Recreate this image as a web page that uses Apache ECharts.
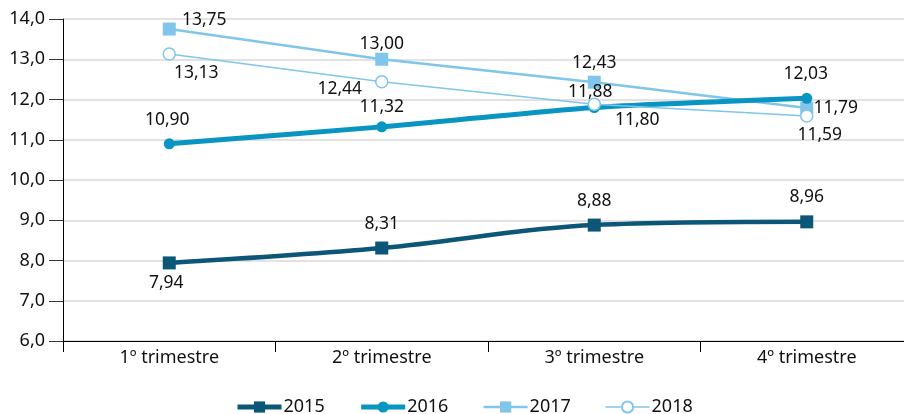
<!DOCTYPE html>
<html>
<head>
<meta charset="utf-8">
<script src="https://cdn.jsdelivr.net/npm/echarts@6/dist/echarts.min.js"></script>
<style>
  html, body { margin: 0; padding: 0; background: #fff; overflow: hidden; width: 904px; height: 414px; }
  /* the plot area runs slightly past the right edge of the page */
  #chart { width: 913px; height: 414px; }
</style>
</head>
<body>
<div id="chart"></div>
<script>
// Quarterly values per year
const categories = ['1º trimestre', '2º trimestre', '3º trimestre', '4º trimestre'];
const years = ['2015', '2016', '2017', '2018'];
const values2015 = [7.94, 8.31, 8.88, 8.96];
const values2016 = [10.90, 11.32, 11.80, 12.03];
const values2017 = [13.75, 13.00, 12.43, 11.79];
const values2018 = [13.13, 12.44, 11.88, 11.59];
const yTicks = { min: 6, max: 14, step: 1 };

// Label placement (pixel offsets from each point's centre)
const labelOffsets2015 = [[-3, 20], [0, -24], [0, -24], [0, -25]];
const labelOffsets2016 = [[-2, -24], [0, -20], [43, 12], [-1, -24]];
const labelOffsets2017 = [[35, -9], [0, -15], [0, -19], [29, 0]];
const labelOffsets2018 = [[27, 19], [-42, 7], [-4, -12], [13, 19]];

const FONT = '"Noto Sans", "DejaVu Sans", sans-serif';
const TEXT = '#111111';
const fmt = v => v.toFixed(2).replace('.', ',');

const styles = {
  '2015': { color: '#0c5677', width: 4.5, symbol: 'rect', symbolSize: 13, smooth: 0.35, z: 4, legendWidth: 5 },
  '2016': { color: '#0895c2', width: 5, symbol: 'circle', symbolSize: 11, smooth: 0.2, z: 3, legendWidth: 5 },
  '2017': { color: '#80c5ea', width: 2.5, symbol: 'rect', symbolSize: 13, z: 2, legendWidth: 2.5 },
  '2018': { color: '#80c5ea', width: 1.5, symbol: 'circle', symbolSize: 12, fill: '#ffffff', borderWidth: 1.5, z: 5, legendWidth: 1.5 }
};

function points(vals, offsets) {
  return vals.map((v, i) => ({ value: v, label: { offset: offsets[i] } }));
}

function lineSeries(name, vals, offsets) {
  const style = styles[name];
  return {
    name: name,
    type: 'line',
    data: points(vals, offsets),
    smooth: style.smooth || false,
    symbol: style.symbol,
    symbolSize: style.symbolSize,
    showAllSymbol: true,
    lineStyle: { color: style.color, width: style.width },
    itemStyle: {
      color: style.fill || style.color,
      borderColor: style.color,
      borderWidth: style.borderWidth || 0
    },
    label: {
      show: true,
      position: 'inside',
      formatter: p => fmt(p.value),
      color: TEXT,
      fontFamily: FONT,
      fontSize: 17.5
    },
    emphasis: { disabled: true },
    z: style.z
  };
}

const chart = echarts.init(document.getElementById('chart'), null, { renderer: 'canvas' });
chart.setOption({
  animation: false,
  backgroundColor: '#ffffff',
  grid: { left: 63, top: 19, right: 0, height: 322, containLabel: false },
  legend: {
    top: 393,
    left: 230,
    itemWidth: 44,
    itemHeight: 14,
    itemGap: 34,
    data: years.map(y => ({
      name: y,
      lineStyle: { width: styles[y].legendWidth, color: styles[y].color }
    })),
    textStyle: { fontFamily: FONT, fontSize: 18, color: TEXT, padding: [0, 0, 0, -3] }
  },
  xAxis: {
    type: 'category',
    data: categories,
    boundaryGap: true,
    axisLine: { lineStyle: { color: '#000', width: 1 } },
    axisTick: { show: true, length: 11, lineStyle: { color: '#000' } },
    axisLabel: { fontFamily: FONT, fontSize: 18, color: TEXT, margin: 8 },
    splitLine: { show: false }
  },
  yAxis: {
    type: 'value',
    min: yTicks.min,
    max: yTicks.max,
    interval: yTicks.step,
    axisLine: { show: true, lineStyle: { color: '#000', width: 1 } },
    axisTick: { show: true, length: 14, lineStyle: { color: '#333' } },
    axisLabel: {
      fontFamily: FONT, fontSize: 18, color: TEXT, margin: 18,
      formatter: v => v.toFixed(1).replace('.', ',')
    },
    splitLine: { show: true, lineStyle: { color: '#d9d9d9', width: 1.5 } }
  },
  series: [
    lineSeries('2015', values2015, labelOffsets2015),
    lineSeries('2016', values2016, labelOffsets2016),
    lineSeries('2017', values2017, labelOffsets2017),
    lineSeries('2018', values2018, labelOffsets2018)
  ]
});
</script>
</body>
</html>
